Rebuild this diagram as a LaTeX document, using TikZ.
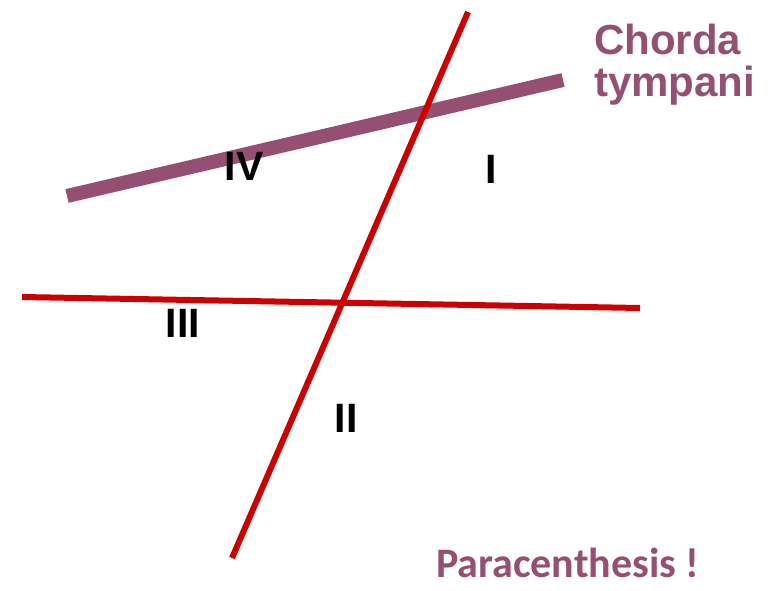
\documentclass[tikz,border=0pt]{standalone}
\usepackage{fontspec}
\setmainfont{Liberation Sans}
\newfontfamily\calib{Carlito}
\definecolor{nerve}{HTML}{954F72}
\definecolor{redline}{HTML}{CC0000}
\begin{document}
\begin{tikzpicture}[x=1pt,y=-1pt,
  redl/.style={draw=redline,line width=6pt},
  chorda/.style={draw=nerve,line width=14pt},
  numeral/.style={inner sep=0pt,anchor=base,font=\fontsize{41}{41}\selectfont\bfseries,text=black},
  lbl/.style={inner sep=0pt,anchor=base west,text=nerve}]
\useasboundingbox (0,0) rectangle (782,591);
\coordinate (a1) at (468,12);
\coordinate (a2) at (232,558);
\coordinate (h1) at (22,297);
\coordinate (h2) at (640,308);
\coordinate (c1) at (67,196);
\coordinate (c2) at (563,80);
\draw[chorda] (c1) -- (c2);
\draw[redl] (a1) -- (a2);
\draw[redl] (h1) -- (h2);
\node[numeral] (n4) at (244,180) {IV};
\node[numeral] (n1) at (491,183) {I};
\node[numeral] (n3) at (183,337) {III};
\node[numeral] (n2) at (346,432) {II};
\node[lbl,font=\fontsize{42}{42}\selectfont\bfseries] (ch) at (594,55) {Chorda};
\node[lbl,font=\fontsize{42}{42}\selectfont\bfseries] (ty) at (594,97) {tympani};
\node[lbl,font=\fontsize{42}{42}\selectfont\calib\bfseries] (pc) at (436,577) {Paracenthesis !};
\end{tikzpicture}
\end{document}
